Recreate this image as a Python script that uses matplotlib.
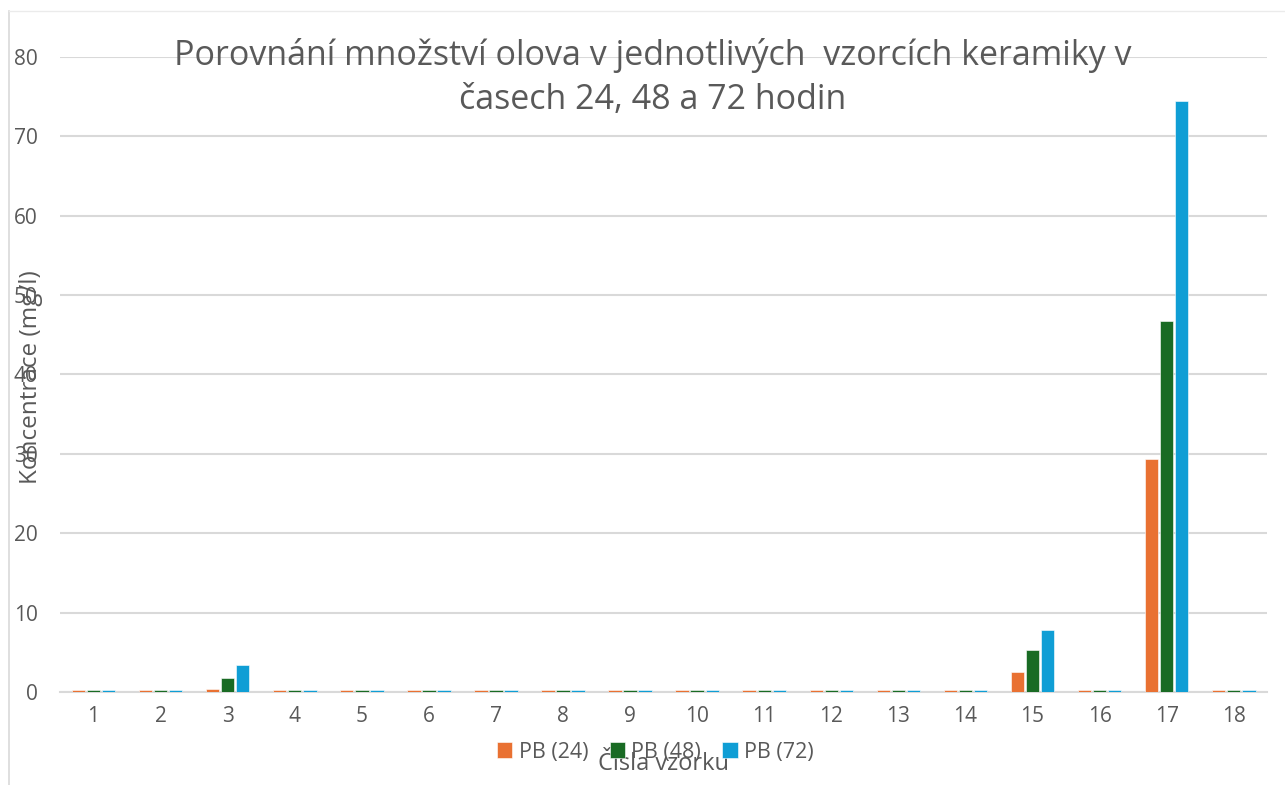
import numpy as np
import matplotlib
matplotlib.use("Agg")
import matplotlib.pyplot as plt
from matplotlib.lines import Line2D

plt.rcParams['font.family'] = ['Open Sans', 'DejaVu Sans']

# -------- DATA --------
samples = [str(i) for i in range(1, 19)]
pb24 = [0.25, 0.25, 0.4, 0.25, 0.25, 0.25, 0.25, 0.25, 0.25,
        0.25, 0.25, 0.25, 0.25, 0.25, 2.5, 0.25, 29.3, 0.25]
pb48 = [0.25, 0.25, 1.8, 0.25, 0.25, 0.25, 0.25, 0.25, 0.25,
        0.25, 0.25, 0.25, 0.25, 0.25, 5.3, 0.25, 46.7, 0.25]
pb72 = [0.25, 0.25, 3.4, 0.25, 0.25, 0.25, 0.25, 0.25, 0.25,
        0.25, 0.25, 0.25, 0.25, 0.25, 7.8, 0.25, 74.4, 0.25]
series = [("PB (24)", pb24, "#E97132"),
          ("PB (48)", pb48, "#196B24"),
          ("PB (72)", pb72, "#0F9ED5")]

text_col = "#595959"
grid_col = "#D9D9D9"

# -------- FIGURE --------
fig = plt.figure(figsize=(12.85, 7.85), dpi=100)
ax = fig.add_axes([0.0467, 0.1185, 0.9395, 0.809])

x = np.arange(len(samples))
w = 0.2
step = 0.225
for i, (name, vals, col) in enumerate(series):
    ax.bar(x + (i - 1) * step, vals, width=w, color=col,
           edgecolor="white", linewidth=0.4, label=name, zorder=3)

ax.set_xlim(-0.5, len(samples) - 0.5)
ax.set_ylim(0, 80)
ax.set_yticks(range(0, 81, 10))
ax.set_xticks(x)
ax.set_xticklabels(samples)
ax.yaxis.grid(True, color=grid_col, linewidth=1.5, zorder=0)
ax.set_axisbelow(True)
for s in ["top", "right", "left"]:
    ax.spines[s].set_visible(False)
ax.spines["bottom"].set_color(grid_col)
ax.spines["bottom"].set_linewidth(1.5)
ax.tick_params(axis="both", length=0, labelsize=15, colors=text_col)
ax.tick_params(axis="y", pad=16)
ax.tick_params(axis="x", pad=10)

fig.text(0.508, 0.901, "Porovnání množství olova v jednotlivých  vzorcích keramiky v\nčasech 24, 48 a 72 hodin",
         ha="center", va="center", fontsize=24.5, color=text_col, linespacing=1.4)

fig.text(0.024, 0.52, "Koncentrace (mg/l)", rotation=90, ha="center", va="center",
         fontsize=17.5, color=text_col)
fig.text(0.516, 0.027, "Čísla vzorku", ha="center", va="center",
         fontsize=17, color=text_col)

leg = fig.legend(loc="center", bbox_to_anchor=(0.51, 0.042), ncol=3, frameon=False,
                 fontsize=15.5, handlelength=0.7, handleheight=0.7, handletextpad=0.3,
                 columnspacing=1.0, labelcolor=text_col)

# light frame on left and top
fig.add_artist(Line2D([0.007, 0.007], [0, 0.986], color=grid_col, linewidth=1.2))
fig.add_artist(Line2D([0.007, 1.0], [0.986, 0.986], color="#EBEBEB", linewidth=1.0))

fig.savefig("out.png", dpi=100)
